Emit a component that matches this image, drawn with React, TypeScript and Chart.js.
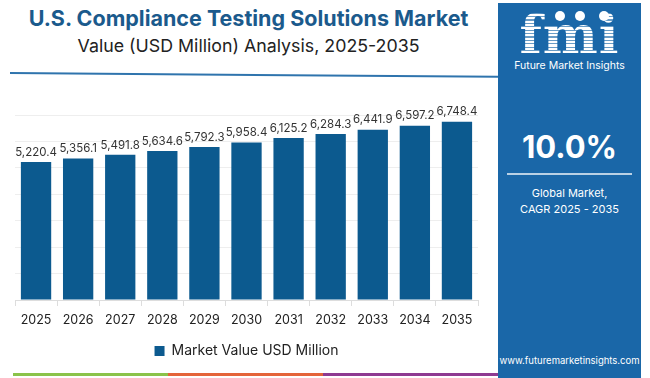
import React, { useEffect, useRef } from "react";
import { Chart, registerables } from "chart.js";

Chart.register(...registerables);

const categories = ["2025", "2026", "2027", "2028", "2029", "2030", "2031", "2032", "2033", "2034", "2035"];
const marketValues = [5220.4, 5356.1, 5491.8, 5634.6, 5792.3, 5958.4, 6125.2, 6284.3, 6441.9, 6597.2, 6748.4];
const seriesLabel = "Market Value USD Million";
const yMax = 7000;
const yStep = 1000;

const BAR = "#0c5a8f";
const PANEL = "#1a67a8";
const FONT = "Inter, 'Noto Sans', sans-serif";

const labelPlugin = {
  id: "barLabels",
  afterDatasetsDraw(chart: any) {
    const ctx = chart.ctx;
    const meta = chart.getDatasetMeta(0);
    ctx.save();
    ctx.font = `11.5px ${FONT}`;
    ctx.fillStyle = "#333333";
    ctx.textAlign = "center";
    ctx.textBaseline = "bottom";
    meta.data.forEach((bar: any, i: number) => {
      const v = marketValues[i];
      const txt = v.toLocaleString("en-US", { minimumFractionDigits: 1, maximumFractionDigits: 1 });
      ctx.fillText(txt, bar.x, bar.y - 4);
    });
    ctx.restore();
  },
};

export default function App() {
  const ref = useRef<HTMLCanvasElement | null>(null);

  useEffect(() => {
    if (!ref.current) return;
    const chart = new Chart(ref.current, {
      type: "bar",
      data: {
        labels: categories,
        datasets: [
          {
            label: seriesLabel,
            data: marketValues,
            backgroundColor: BAR,
            borderWidth: 0,
          },
        ],
      },
      options: {
        animation: false,
        responsive: false,
        devicePixelRatio: 1,
        layout: { padding: { left: 15, right: 19, top: 31, bottom: 10 } },
        plugins: {
          legend: {
            position: "bottom",
            labels: {
              boxWidth: 10,
              boxHeight: 10,
              padding: 9,
              color: "#222222",
              font: { family: FONT, size: 14 },
            },
          },
          tooltip: { enabled: false },
        },
        scales: {
          x: {
            grid: {
              drawOnChartArea: false,
              drawTicks: true,
              tickLength: 6,
              color: "#dddddd",
            },
            border: { color: "#dddddd" },
            ticks: { color: "#222222", font: { family: FONT, size: 12.5 }, padding: 7 },
          },
          y: {
            min: 0,
            max: yMax,
            ticks: { display: false, stepSize: yStep },
            grid: { color: "#eeeeee", drawTicks: false },
            border: { display: false },
          },
        },
      },
      plugins: [labelPlugin],
    });
    return () => chart.destroy();
  }, []);

  const stripes = "repeating-linear-gradient(180deg, #ffffff 0px, #ffffff 2.2px, rgba(255,255,255,0.35) 2.2px, rgba(255,255,255,0.35) 3.4px)";

  return (
    <div style={{ position: "fixed", left: 0, top: 0, width: 650, height: 378, background: "#ffffff", overflow: "hidden", fontFamily: FONT }}>
      <div style={{ position: "absolute", left: 0, top: 5, width: 497, textAlign: "center", fontSize: 21.5, fontWeight: 700, color: "#1b5a8c" }}>
        U.S. Compliance Testing Solutions Market
      </div>
      <div style={{ position: "absolute", left: 0, top: 35, width: 497, textAlign: "center", fontSize: 17.8, color: "#222222" }}>
        Value (USD Million) Analysis, 2025-2035
      </div>
      <div style={{ position: "absolute", left: 10, top: 72, width: 488, height: 2, background: "#2f74ad", transform: "rotate(0.45deg)", transformOrigin: "left center" }} />
      <canvas ref={ref} width={497} height={294} style={{ position: "absolute", left: 0, top: 84 }} />
      <div style={{ position: "absolute", left: 13, top: 373, width: 155, height: 3, background: "#8bc34a" }} />
      <div style={{ position: "absolute", left: 168, top: 373, width: 155, height: 3, background: "#e4643a" }} />
      <div style={{ position: "absolute", left: 323, top: 373, width: 175, height: 3, background: "#8e3a91" }} />
      <div style={{ position: "absolute", left: 498, top: 3, width: 143, height: 375, background: PANEL }}>
        <div style={{ position: "absolute", left: 57, top: 8, width: 10, height: 10, borderRadius: 5, background: "#ffffff" }} />
        <div style={{ position: "absolute", left: 77, top: 8, width: 10, height: 10, borderRadius: 5, background: "#ffffff" }} />
        <div style={{ position: "absolute", left: 101, top: 8, width: 10, height: 10, borderRadius: 5, background: "#ffffff" }} />
        <div
          style={{
            position: "absolute",
            left: 0,
            top: 4,
            width: 143,
            textAlign: "center",
            fontFamily: "'DejaVu Serif', serif",
            fontWeight: 700,
            fontSize: 52,
            lineHeight: "56px",
            letterSpacing: 1,
            backgroundImage: stripes,
            WebkitBackgroundClip: "text",
            backgroundClip: "text",
            color: "transparent",
          }}
        >
          fmi
        </div>
        <div style={{ position: "absolute", left: 0, top: 56, width: 143, textAlign: "center", fontSize: 10.5, color: "#ffffff" }}>
          Future Market Insights
        </div>
        <div style={{ position: "absolute", left: 0, top: 125, width: 143, textAlign: "center", fontSize: 31, fontWeight: 700, color: "#ffffff" }}>
          10.0%
        </div>
        <div style={{ position: "absolute", left: 9, top: 170, width: 125, height: 2, background: "rgba(255,255,255,0.7)" }} />
        <div style={{ position: "absolute", left: 0, top: 182, width: 143, textAlign: "center", fontSize: 11, lineHeight: "16px", color: "#ffffff" }}>
          Global Market,
          <br />
          CAGR 2025 - 2035
        </div>
        <div style={{ position: "absolute", left: 0, top: 352, width: 143, textAlign: "center", fontSize: 9.5, color: "#ffffff" }}>
          www.futuremarketinsights.com
        </div>
      </div>
    </div>
  );
}
